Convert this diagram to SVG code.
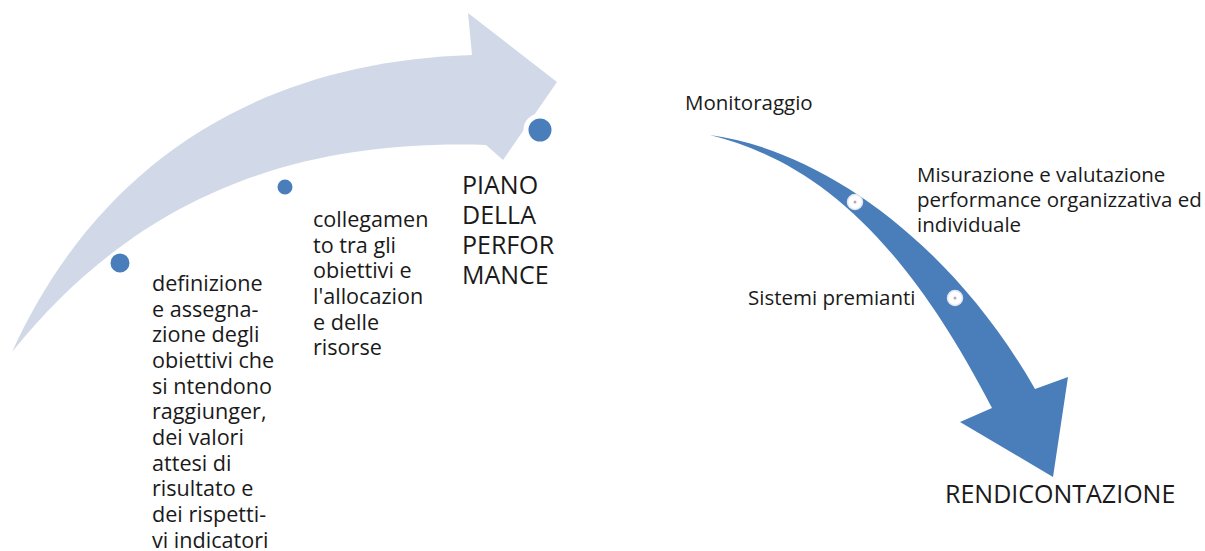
<svg xmlns="http://www.w3.org/2000/svg" width="1205" height="551" viewBox="0 0 1205 551">
  <style>
    .lbl { font-family: "Open Sans", "Noto Sans", "Liberation Sans", sans-serif; font-size: 20.5px; fill: #1a1a1a; }
    .lbl2 { font-family: "Open Sans", "Noto Sans", "Liberation Sans", sans-serif; font-size: 21.6px; fill: #1a1a1a; }
    .big { font-family: "Open Sans", "Noto Sans", "Liberation Sans", sans-serif; font-size: 25px; fill: #1a1a1a; }
    .dot { fill: #4a7ebb; stroke: #ffffff; stroke-width: 3; }
    .wdot { fill: #ffffff; stroke: #dfe6f0; stroke-width: 1.5; }
    .wcore { fill: #b9a9b6; }
  </style>
  <rect width="1205" height="551" fill="#ffffff"/>
  <g id="connectors">
    <path id="arrow-plan" d="M12,352 C95,170 250,62 472,55 L468,13 L557,82 L503,160 L486,145 C320,140 150,180 12,352 Z" fill="#d1d9e8"/>
    <path id="arrow-report" d="M710,135 C820,150 950,240 1035,389 L1068,377 L1053,477 L960,422 L992,408 C900,230 810,160 710,135 Z" fill="#4a7ebb"/>
  </g>
  <g id="node-definizione">
    <circle class="dot" cx="120" cy="263" r="11"/>
    <text class="lbl2">
      <tspan x="152" y="291">definizione</tspan>
      <tspan x="152" y="316.7">e assegna-</tspan>
      <tspan x="152" y="342.3">zione degli</tspan>
      <tspan x="152" y="368">obiettivi che</tspan>
      <tspan x="152" y="393.6">si ntendono</tspan>
      <tspan x="152" y="419.3">raggiunger,</tspan>
      <tspan x="152" y="445">dei valori</tspan>
      <tspan x="152" y="470.6">attesi di</tspan>
      <tspan x="152" y="496.3">risultato e</tspan>
      <tspan x="152" y="522">dei rispetti-</tspan>
      <tspan x="152" y="547.6">vi indicatori</tspan>
    </text>
  </g>
  <g id="node-collegamento">
    <circle class="dot" cx="285" cy="187" r="9"/>
    <text class="lbl2">
      <tspan x="313" y="227">collegamen</tspan>
      <tspan x="313" y="252.6">to tra gli</tspan>
      <tspan x="313" y="278.3">obiettivi e</tspan>
      <tspan x="313" y="304">l'allocazion</tspan>
      <tspan x="313" y="329.6">e delle</tspan>
      <tspan x="313" y="355.3">risorse</tspan>
    </text>
  </g>
  <g id="node-piano">
    <circle cx="540" cy="130" r="14" fill="#4a7ebb" stroke="#ffffff" stroke-width="5"/>
    <text class="big">
      <tspan x="462" y="194">PIANO</tspan>
      <tspan x="462" y="224">DELLA</tspan>
      <tspan x="462" y="254">PERFOR</tspan>
      <tspan x="462" y="284">MANCE</tspan>
    </text>
  </g>
  <g id="node-monitoraggio">
    <text class="lbl" x="685" y="110">Monitoraggio</text>
  </g>
  <g id="node-misurazione">
    <circle class="wdot" cx="855" cy="202" r="7.5"/>
    <circle class="wcore" cx="855" cy="202" r="1.5"/>
    <text class="lbl">
      <tspan x="917" y="182">Misurazione e valutazione</tspan>
      <tspan x="917" y="207">performance organizzativa ed</tspan>
      <tspan x="917" y="232">individuale</tspan>
    </text>
  </g>
  <g id="node-sistemi">
    <circle class="wdot" cx="955" cy="298" r="7.5"/>
    <circle class="wcore" cx="955" cy="298" r="1.5"/>
    <text class="lbl" x="748" y="305">Sistemi premianti</text>
  </g>
  <g id="node-rendicontazione">
    <text class="big" x="945" y="503">RENDICONTAZIONE</text>
  </g>
</svg>
